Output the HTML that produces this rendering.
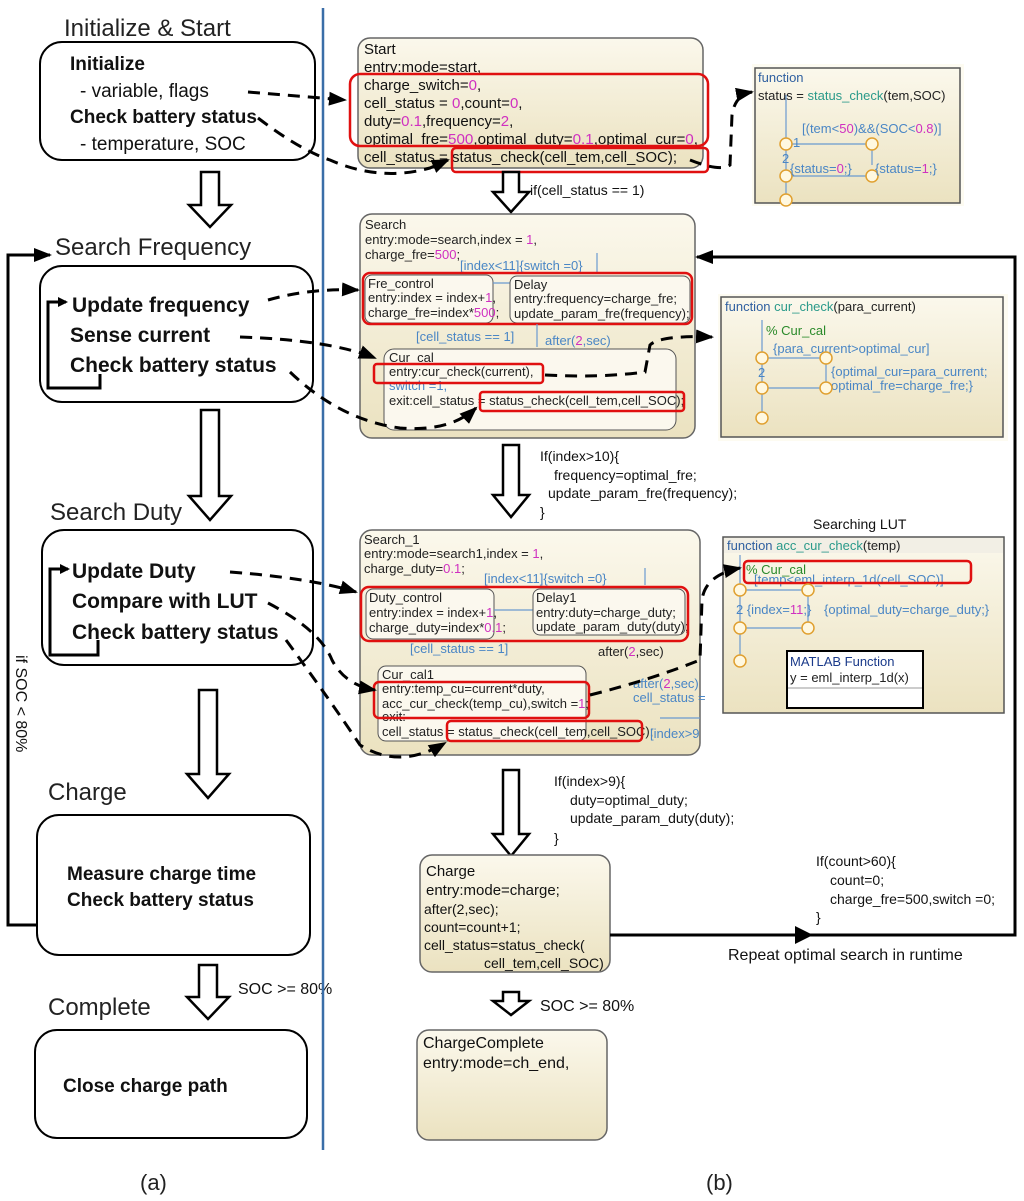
<!DOCTYPE html>
<html><head><meta charset="utf-8"><style>
html,body{margin:0;padding:0;background:#fff}
svg{display:block}
text{font-family:"Liberation Sans",Arial,sans-serif}
.h{font-size:24px;fill:#222}
.b{font-size:19px;font-weight:bold;fill:#111}
.b2{font-size:21px;font-weight:bold;fill:#111}
.n{font-size:19px;fill:#111}
.s{font-size:14px;fill:#111}
.s15{font-size:15px;fill:#111}
.m{font-size:13px;fill:#222}
.bl{fill:#4a86c5}
.pk{fill:#d030c0}
.gr{fill:#2a9a8a}
.gn{fill:#2a8a2a}
.box{fill:#fff;stroke:#000;stroke-width:2}
.st{fill:url(#beige);stroke:#666;stroke-width:1.5}
.red{fill:none;stroke:#e01010;stroke-width:2.5}
.dash{fill:none;stroke:#000;stroke-width:3;stroke-dasharray:12,8}
.ha{fill:#fff;stroke:#000;stroke-width:2.5}
.tl{stroke:#6a9ad0;stroke-width:1.2;fill:none}
.oc{fill:#fff8e0;stroke:#e0a030;stroke-width:1.5}
</style></head><body>
<svg width="1024" height="1201" viewBox="0 0 1024 1201" xmlns="http://www.w3.org/2000/svg">
<defs>
<linearGradient id="beige" x1="0" y1="0" x2="0" y2="1"><stop offset="0" stop-color="#fbf8ec"/><stop offset="1" stop-color="#ebe2c0"/></linearGradient>
<marker id="ah" markerWidth="10" markerHeight="10" refX="8" refY="5" orient="auto" markerUnits="userSpaceOnUse"><path d="M0,0 L10,5 L0,10 z" fill="#000"/></marker>
<marker id="ahb" markerWidth="18" markerHeight="14" refX="16" refY="7" orient="auto" markerUnits="userSpaceOnUse"><path d="M0,0 L18,7 L0,14 z" fill="#000"/></marker>
</defs>

<!-- LEFT COLUMN -->
<text x="64" y="36" class="h">Initialize &amp; Start</text>
<rect x="40" y="42" width="275" height="118" rx="22" class="box"/>
<text x="70" y="70" class="b">Initialize</text>
<text x="80" y="97" class="n">- variable, flags</text>
<text x="70" y="123" class="b">Check battery status</text>
<text x="80" y="150" class="n">- temperature, SOC</text>
<path d="M201,172 h18 v33 h12 l-21,22 l-21,-22 h12 z" class="ha"/>

<text x="55" y="255" class="h">Search Frequency</text>
<rect x="40" y="266" width="273" height="136" rx="22" class="box"/>
<text x="72" y="312" class="b2">Update frequency</text>
<text x="70" y="342" class="b2">Sense current</text>
<text x="70" y="372" class="b2">Check battery status</text>
<path d="M100,374 V388 H48 V302 H66" fill="none" stroke="#000" stroke-width="3" marker-end="url(#ah)"/>
<path d="M201,410 h18 v86 h12 l-21,24 l-21,-24 h12 z" class="ha"/>

<text x="50" y="520" class="h">Search Duty</text>
<rect x="42" y="530" width="271" height="135" rx="22" class="box"/>
<text x="72" y="578" class="b2">Update Duty</text>
<text x="72" y="608" class="b2">Compare with LUT</text>
<text x="72" y="639" class="b2">Check battery status</text>
<path d="M98,640 V655 H50 V569 H68" fill="none" stroke="#000" stroke-width="3" marker-end="url(#ah)"/>
<path d="M199,690 h18 v84 h12 l-21,24 l-21,-24 h12 z" class="ha"/>

<text x="48" y="800" class="h">Charge</text>
<rect x="37" y="815" width="273" height="140" rx="22" class="box"/>
<text x="67" y="880" class="b">Measure charge time</text>
<text x="67" y="906" class="b">Check battery status</text>
<path d="M199,965 h18 v32 h12 l-21,22 l-21,-22 h12 z" class="ha"/>
<text x="238" y="994" class="s" style="font-size:16px">SOC &gt;= 80%</text>

<text x="48" y="1015" class="h">Complete</text>
<rect x="35" y="1030" width="272" height="108" rx="22" class="box"/>
<text x="63" y="1092" class="b">Close charge path</text>

<path d="M37,925 H8 V255 H50" fill="none" stroke="#000" stroke-width="3" marker-end="url(#ahb)"/>
<text transform="translate(16,655) rotate(90)" class="n" style="font-size:16px">if SOC &lt; 80%</text>

<line x1="323" y1="8" x2="323" y2="1150" stroke="#3a6ea8" stroke-width="2.5"/>

<text x="140" y="1190" class="h" style="font-size:22px">(a)</text>
<text x="706" y="1190" class="h" style="font-size:22px">(b)</text>

<!-- START STATE -->
<rect x="358" y="38" width="345" height="130" rx="12" class="st"/>
<text x="364" y="54" class="s15">Start</text>
<text x="364" y="72" class="s15">entry:mode=start,</text>
<text x="364" y="90" class="s15">charge_switch=<tspan class="pk">0</tspan>,</text>
<text x="364" y="108" class="s15">cell_status = <tspan class="pk">0</tspan>,count=<tspan class="pk">0</tspan>,</text>
<text x="364" y="126" class="s15">duty=<tspan class="pk">0.1</tspan>,frequency=<tspan class="pk">2</tspan>,</text>
<text x="364" y="144" class="s15" textLength="334" lengthAdjust="spacingAndGlyphs">optimal_fre=<tspan class="pk">500</tspan>,optimal_duty=<tspan class="pk">0.1</tspan>,optimal_cur=<tspan class="pk">0</tspan>,</text>
<text x="364" y="162" class="s15">cell_status = status_check(cell_tem,cell_SOC);</text>
<rect x="350" y="74" width="358" height="72" rx="10" class="red"/>
<rect x="452" y="148" width="256" height="24" rx="4" class="red"/>
<path d="M503,172 h16 v20 h10 l-18,20 l-18,-20 h10 z" class="ha"/>
<text x="530" y="195" class="s">if(cell_status == 1)</text>

<!-- SEARCH -->
<rect x="360" y="214" width="335" height="224" rx="12" class="st"/>
<text x="365" y="229" class="m">Search</text>
<text x="365" y="244" class="m">entry:mode=search,index = <tspan class="pk">1</tspan>,</text>
<text x="365" y="259" class="m">charge_fre=<tspan class="pk">500</tspan>;</text>
<text x="460" y="270" class="m bl">[index&lt;11]{switch =0}</text>
<line x1="597" y1="253" x2="597" y2="272" class="tl"/>
<rect x="365" y="275" width="128" height="48" rx="7" fill="#fbf8ee" stroke="#555"/>
<text x="368" y="288" class="m">Fre_control</text>
<text x="368" y="302" class="m">entry:index = index+<tspan class="pk">1</tspan>,</text>
<text x="368" y="317" class="m">charge_fre=index*<tspan class="pk">500</tspan>;</text>
<line x1="493" y1="283" x2="511" y2="283" class="tl"/>
<rect x="510" y="276" width="180" height="47" rx="7" fill="#fbf8ee" stroke="#555"/>
<text x="514" y="289" class="m">Delay</text>
<text x="514" y="303" class="m">entry:frequency=charge_fre;</text>
<text x="514" y="318" class="m">update_param_fre(frequency);</text>
<rect x="363" y="273" width="329" height="51" rx="7" class="red"/>
<text x="416" y="341" class="m bl">[cell_status == 1]</text>
<text x="545" y="345" class="m bl">after(<tspan class="pk">2</tspan>,sec)</text>
<line x1="537" y1="324" x2="537" y2="347" class="tl"/>
<rect x="384" y="349" width="292" height="81" rx="10" fill="#fbf8ee" stroke="#555"/>
<text x="389" y="362" class="m">Cur_cal</text>
<text x="389" y="376" class="m">entry:cur_check(current),</text>
<text x="389" y="390" class="m bl">switch =1,</text>
<text x="389" y="405" class="m">exit:cell_status = status_check(cell_tem,cell_SOC);</text>
<rect x="374" y="364" width="169" height="19" rx="3" class="red"/>
<rect x="480" y="392" width="204" height="19" rx="3" class="red"/>
<path d="M503,445 h16 v50 h10 l-18,22 l-18,-22 h10 z" class="ha"/>
<text x="540" y="461" class="s">If(index&gt;10){</text>
<text x="554" y="480" class="s">frequency=optimal_fre;</text>
<text x="548" y="498" class="s">update_param_fre(frequency);</text>
<text x="540" y="517" class="s">}</text>

<!-- SEARCH_1 -->
<rect x="360" y="530" width="340" height="225" rx="12" class="st"/>
<text x="364" y="544" class="m">Search_1</text>
<text x="364" y="558" class="m">entry:mode=search1,index = <tspan class="pk">1</tspan>,</text>
<text x="364" y="573" class="m">charge_duty=<tspan class="pk">0.1</tspan>;</text>
<text x="484" y="583" class="m bl">[index&lt;11]{switch =0}</text>
<line x1="645" y1="568" x2="645" y2="585" class="tl"/>
<rect x="366" y="589" width="128" height="50" rx="7" fill="#fbf8ee" stroke="#555"/>
<text x="369" y="602" class="m">Duty_control</text>
<text x="369" y="617" class="m">entry:index = index+<tspan class="pk">1</tspan>,</text>
<text x="369" y="632" class="m">charge_duty=index*<tspan class="pk">0.1</tspan>;</text>
<line x1="494" y1="610" x2="533" y2="610" class="tl"/>
<rect x="533" y="589" width="152" height="46" rx="7" fill="#fbf8ee" stroke="#555"/>
<text x="536" y="602" class="m">Delay1</text>
<text x="536" y="617" class="m">entry:duty=charge_duty;</text>
<text x="536" y="631" class="m">update_param_duty(duty);</text>
<rect x="361" y="587" width="327" height="54" rx="8" class="red"/>
<text x="410" y="653" class="m bl">[cell_status == 1]</text>
<text x="598" y="656" class="m">after(<tspan class="pk">2</tspan>,sec)</text>
<rect x="378" y="666" width="208" height="75" rx="8" fill="#fbf8ee" stroke="#555"/>
<text x="382" y="679" class="m">Cur_cal1</text>
<text x="382" y="693" class="m">entry:temp_cu=current*duty,</text>
<text x="382" y="708" class="m">acc_cur_check(temp_cu),switch =<tspan class="pk">1</tspan>;</text>
<text x="382" y="721" class="m">exit:</text>
<text x="382" y="736" class="m">cell_status = status_check(cell_tem,cell_SOC);</text>
<rect x="374" y="682" width="215" height="36" rx="5" class="red"/>
<rect x="447" y="721" width="195" height="20" rx="4" class="red"/>
<text x="633" y="688" class="m bl">after(<tspan class="pk">2</tspan>,sec)</text>
<text x="633" y="702" class="m bl">cell_status =</text>
<text x="650" y="738" class="m bl">[index&gt;9</text>
<line x1="660" y1="718" x2="700" y2="718" class="tl"/>

<path d="M503,770 h16 v64 h10 l-18,22 l-18,-22 h10 z" class="ha"/>
<text x="554" y="786" class="s">If(index&gt;9){</text>
<text x="570" y="805" class="s">duty=optimal_duty;</text>
<text x="570" y="823" class="s">update_param_duty(duty);</text>
<text x="554" y="843" class="s">}</text>

<!-- CHARGE -->
<rect x="420" y="855" width="190" height="117" rx="12" class="st"/>
<text x="426" y="876" class="s" style="font-size:15px">Charge</text>
<text x="426" y="895" class="s" style="font-size:15px">entry:mode=charge;</text>
<text x="424" y="914" class="s">after(2,sec);</text>
<text x="424" y="932" class="s">count=count+1;</text>
<text x="424" y="950" class="s">cell_status=status_check(</text>
<text x="484" y="968" class="s">cell_tem,cell_SOC)</text>
<path d="M503,992 h16 v9 h10 l-18,14 l-18,-14 h10 z" class="ha"/>
<text x="540" y="1011" class="s" style="font-size:16px">SOC &gt;= 80%</text>
<rect x="417" y="1030" width="190" height="110" rx="12" class="st"/>
<text x="423" y="1048" class="s" style="font-size:16px">ChargeComplete</text>
<text x="423" y="1068" class="s" style="font-size:16px">entry:mode=ch_end,</text>

<text x="816" y="866" class="s">If(count&gt;60){</text>
<text x="830" y="885" class="s">count=0;</text>
<text x="830" y="904" class="s">charge_fre=500,switch =0;</text>
<text x="816" y="922" class="s">}</text>
<path d="M610,935 H1015 V257 H697" fill="none" stroke="#000" stroke-width="3" marker-end="url(#ahb)"/>
<path d="M795,926 l18,9 l-18,9 z" fill="#000"/>
<text x="728" y="960" class="s" style="font-size:16px">Repeat optimal search in runtime</text>

<!-- FUNCTION status_check -->
<rect x="752" y="64" width="212" height="142" fill="#fdfbf1"/>
<rect x="755" y="68" width="205" height="135" fill="url(#beige)" stroke="#555" stroke-width="1.5"/>
<text x="758" y="82" class="m bl" style="fill:#3060a0">function</text>
<text x="758" y="100" class="m">status = <tspan class="gr">status_check</tspan>(tem,SOC)</text>
<text x="802" y="133" class="m bl">[(tem&lt;<tspan class="pk">50</tspan>)&amp;&amp;(SOC&lt;<tspan class="pk">0.8</tspan>)]</text>
<line x1="786" y1="95" x2="786" y2="138" class="tl"/>
<line x1="792" y1="144" x2="867" y2="144" class="tl"/>
<line x1="872" y1="150" x2="872" y2="165" class="tl"/>
<line x1="786" y1="150" x2="786" y2="170" class="tl"/>
<line x1="792" y1="176" x2="866" y2="176" class="tl"/>
<line x1="786" y1="182" x2="786" y2="197" class="tl"/>
<circle cx="786" cy="144" r="6" class="oc"/>
<circle cx="872" cy="144" r="6" class="oc"/>
<circle cx="786" cy="176" r="6" class="oc"/>
<circle cx="872" cy="176" r="6" class="oc"/>
<circle cx="786" cy="200" r="6" class="oc"/>
<text x="793" y="147" class="m bl">1</text>
<text x="782" y="163" class="m bl">2</text>
<text x="790" y="173" class="m bl">{status=<tspan class="pk">0</tspan>;}</text>
<text x="875" y="173" class="m bl">{status=<tspan class="pk">1</tspan>;}</text>

<!-- FUNCTION cur_check -->
<rect x="718" y="294" width="290" height="147" fill="#fdfbf1"/>
<rect x="721" y="297" width="282" height="140" fill="url(#beige)" stroke="#555" stroke-width="1.5"/>
<text x="725" y="311" class="m" style="fill:#3060a0">function  <tspan class="gr">cur_check</tspan><tspan style="fill:#222">(para_current)</tspan></text>
<text x="766" y="335" class="m gn">% Cur_cal</text>
<text x="773" y="353" class="m bl">{para_current&gt;optimal_cur]</text>
<text x="831" y="376" class="m bl">{optimal_cur=para_current;</text>
<text x="831" y="390" class="m bl">optimal_fre=charge_fre;}</text>
<line x1="762" y1="320" x2="762" y2="352" class="tl"/>
<line x1="768" y1="358" x2="821" y2="358" class="tl"/>
<line x1="826" y1="364" x2="826" y2="382" class="tl"/>
<line x1="762" y1="364" x2="762" y2="382" class="tl"/>
<line x1="768" y1="388" x2="820" y2="388" class="tl"/>
<line x1="762" y1="394" x2="762" y2="412" class="tl"/>
<circle cx="762" cy="358" r="6" class="oc"/>
<circle cx="826" cy="358" r="6" class="oc"/>
<circle cx="762" cy="388" r="6" class="oc"/>
<circle cx="826" cy="388" r="6" class="oc"/>
<circle cx="762" cy="418" r="6" class="oc"/>
<text x="758" y="377" class="m bl">2</text>

<!-- FUNCTION acc_cur_check -->
<text x="813" y="529" class="s">Searching LUT</text>
<rect x="723" y="537" width="281" height="176" fill="url(#beige)" stroke="#555" stroke-width="1.5"/>
<rect x="724" y="538" width="279" height="15" fill="#f2efe5"/>
<text x="727" y="550" class="m" style="fill:#3060a0">function  <tspan class="gr">acc_cur_check</tspan><tspan style="fill:#222">(temp)</tspan></text>
<text x="746" y="574" class="m gn">% Cur_cal</text>
<text x="754" y="584" class="m bl">[temp&lt;eml_interp_1d(cell_SOC)]</text>
<rect x="744" y="561" width="227" height="22" rx="4" class="red"/>
<line x1="740" y1="555" x2="740" y2="584" class="tl"/>
<line x1="746" y1="590" x2="802" y2="590" class="tl"/>
<line x1="808" y1="596" x2="808" y2="622" class="tl"/>
<line x1="740" y1="596" x2="740" y2="622" class="tl"/>
<line x1="746" y1="628" x2="802" y2="628" class="tl"/>
<line x1="740" y1="634" x2="740" y2="655" class="tl"/>
<circle cx="740" cy="590" r="6" class="oc"/>
<circle cx="808" cy="590" r="6" class="oc"/>
<circle cx="740" cy="628" r="6" class="oc"/>
<circle cx="808" cy="628" r="6" class="oc"/>
<circle cx="740" cy="661" r="6" class="oc"/>
<text x="736" y="614" class="m bl">2 {index=<tspan class="pk">11</tspan>;}</text>
<text x="824" y="614" class="m bl">{optimal_duty=charge_duty;}</text>
<rect x="787" y="651" width="136" height="57" fill="#fff" stroke="#000" stroke-width="2"/>
<text x="790" y="666" class="m" style="fill:#1a3a8a">MATLAB Function</text>
<text x="790" y="682" class="m">y = eml_interp_1d(x)</text>
<line x1="788" y1="688" x2="922" y2="688" stroke="#999"/>

<!-- DASHED ARROWS -->
<path d="M248,92 L345,100" class="dash" marker-end="url(#ahb)"/>
<path d="M258,118 Q300,150 330,160 Q380,182 430,168 L448,160" class="dash" marker-end="url(#ahb)"/>
<path d="M690,160 Q720,172 730,165 L732,115 Q735,95 752,92" class="dash" marker-end="url(#ahb)"/>
<path d="M268,300 Q310,288 358,290" class="dash" marker-end="url(#ahb)"/>
<path d="M240,337 Q330,340 375,358" class="dash" marker-end="url(#ahb)"/>
<path d="M290,372 Q340,420 400,428 Q450,432 476,408" class="dash" marker-end="url(#ahb)"/>
<path d="M545,375 Q600,378 645,372 L650,345 Q660,335 712,337" class="dash" marker-end="url(#ahb)"/>
<path d="M230,572 Q310,578 356,592" class="dash" marker-end="url(#ahb)"/>
<path d="M268,603 Q320,630 332,660 Q345,685 375,690" class="dash" marker-end="url(#ahb)"/>
<path d="M286,640 Q330,700 360,745 Q400,770 445,743" class="dash" marker-end="url(#ahb)"/>
<path d="M590,695 Q650,680 700,660 L702,600 Q705,575 740,568" class="dash" marker-end="url(#ahb)"/>
</svg>
</body></html>
